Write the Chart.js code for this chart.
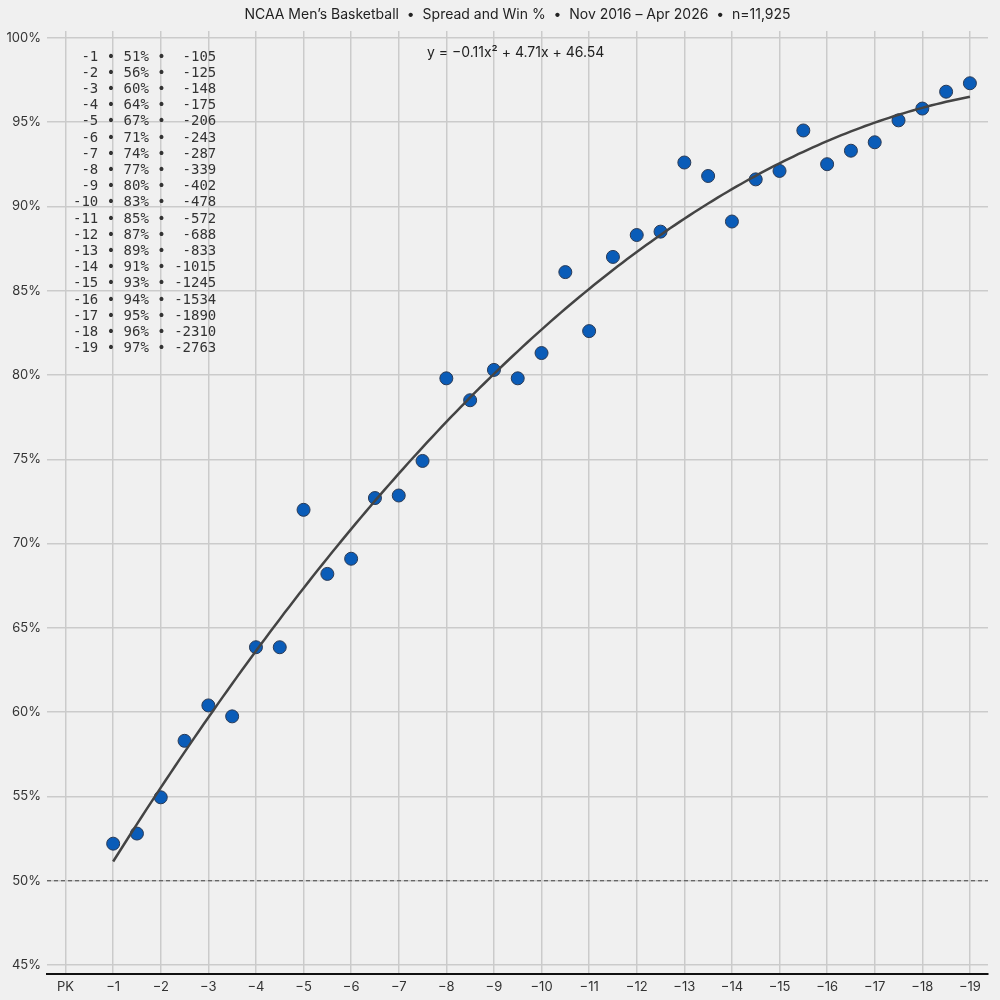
<!DOCTYPE html>
<html>
<head>
<meta charset="utf-8">
<script src="https://cdn.jsdelivr.net/npm/chart.js@4.4.1/dist/chart.umd.min.js"></script>
<style>
  html, body { margin: 0; padding: 0; background: #f0f0f0; }
  #wrap { width: 1000px; height: 1000px; }
</style>
</head>
<body>
<div id="wrap"><canvas id="chart" width="1000" height="1000"></canvas></div>
<script>
// spread (points favoured, as positive number) and observed win %
const spreads = [1, 1.5, 2, 2.5, 3, 3.5, 4, 4.5, 5, 5.5, 6, 6.5, 7, 7.5, 8, 8.5, 9, 9.5, 10,
                 10.5, 11, 11.5, 12, 12.5, 13, 13.5, 14, 14.5, 15, 15.5, 16, 16.5, 17, 17.5, 18, 18.5, 19];
const winPct = [52.2, 52.8, 54.95, 58.3, 60.4, 59.75, 63.85, 63.85, 72.0, 68.2, 69.1, 72.7, 72.85, 74.9,
                79.8, 78.5, 80.3, 79.8, 81.3, 86.1, 82.6, 87.0, 88.3, 88.5, 92.6, 91.8, 89.1, 91.6,
                92.1, 94.5, 92.5, 93.3, 93.8, 95.1, 95.8, 96.8, 97.3];

// fitted curve (printed rounded on the chart): y = a x^2 + b x + c
const fitCoef = [-0.1095, 4.71, 46.54];

// lookup table in upper-left corner
const tableSpread = ['-1','-2','-3','-4','-5','-6','-7','-8','-9','-10','-11','-12','-13','-14','-15','-16','-17','-18','-19'];
const tableWin = [51, 56, 60, 64, 67, 71, 74, 77, 80, 83, 85, 87, 89, 91, 93, 94, 95, 96, 97];
const tableOdds = ['-105','-125','-148','-175','-206','-243','-287','-339','-402','-478','-572','-688','-833','-1015','-1245','-1534','-1890','-2310','-2763'];

const xTicks = [0, 1, 2, 3, 4, 5, 6, 7, 8, 9, 10, 11, 12, 13, 14, 15, 16, 17, 18, 19];
const yTicks = [45, 50, 55, 60, 65, 70, 75, 80, 85, 90, 95, 100];

const titleText = 'NCAA Men\u2019s Basketball  \u2022  Spread and Win %  \u2022  Nov 2016 \u2013 Apr 2026  \u2022  n=11,925';
const eqText = 'y = \u22120.11x\u00b2 + 4.71x + 46.54';

const X_MIN = -0.39, X_MAX = 19.38;
const Y_MIN = 44.47, Y_MAX = 100.4;

const fitPts = [];
for (let x = 1; x <= 19.0001; x += 0.1) {
    fitPts.push({ x: x, y: fitCoef[0] * x * x + fitCoef[1] * x + fitCoef[2] });
}

// 标题 / 公式 / 表格
const overlay = {
    id: 'overlay',
    afterDraw(chart) {
        const c = chart.ctx, a = chart.chartArea;
        c.save();
        c.fillStyle = '#222';
        c.font = '14px Inter, sans-serif';
        c.textAlign = 'center';
        c.textBaseline = 'middle';
        c.fillText(titleText, (a.left + a.right) / 2, 15);

        c.textAlign = 'left';
        c.fillText(eqText, 427, 53);

        c.font = '14px "DejaVu Sans Mono", monospace';
        c.fillStyle = '#333';
        tableSpread.forEach((s, i) => {
            const line = s.padStart(3) + ' \u2022 ' + (tableWin[i] + '%') + ' \u2022 ' + tableOdds[i].padStart(5);
            c.fillText(line, 73, 57 + i * 16.2);
        });
        c.restore();
    }
};

new Chart(document.getElementById('chart').getContext('2d'), {
    type: 'scatter',
    data: {
        datasets: [
            {
                type: 'line',
                data: fitPts,
                borderColor: '#444',
                borderWidth: 2.5,
                pointRadius: 0,
                fill: false,
                order: 0
            },
            {
                data: spreads.map((s, i) => ({ x: s, y: winPct[i] })),
                backgroundColor: '#0a5cb8',
                borderColor: '#2a3a55',
                borderWidth: 1,
                pointRadius: 6.5,
                order: 1
            },
            {
                type: 'line',
                data: [{ x: X_MIN, y: 50 }, { x: X_MAX, y: 50 }],
                borderColor: '#444',
                borderWidth: 1,
                borderDash: [4, 3],
                pointRadius: 0,
                fill: false,
                order: 2
            }
        ]
    },
    options: {
        responsive: false,
        animation: false,
        layout: { padding: { top: 31, right: 12, left: 0, bottom: 0 } },
        plugins: {
            legend: { display: false },
            tooltip: { enabled: false }
        },
        scales: {
            x: {
                type: 'linear',
                min: X_MIN,
                max: X_MAX,
                afterBuildTicks: s => { s.ticks = xTicks.map(v => ({ value: v })); },
                afterFit: s => { s.height = 26; },
                grid: { color: '#cbcbcb', lineWidth: 1.5, drawTicks: false },
                border: { color: '#111', width: 2 },
                ticks: {
                    color: '#333',
                    padding: 5,
                    font: { family: 'Inter, sans-serif', size: 13 },
                    callback: v => v === 0 ? 'PK' : '\u2212' + v
                }
            },
            y: {
                min: Y_MIN,
                max: Y_MAX,
                afterBuildTicks: s => { s.ticks = yTicks.map(v => ({ value: v })); },
                afterFit: s => { s.width = 47; },
                grid: { color: '#cbcbcb', lineWidth: 1.5, drawTicks: false },
                border: { display: false },
                ticks: {
                    color: '#333',
                    padding: 6,
                    font: { family: 'Inter, sans-serif', size: 13 },
                    callback: v => v + '%'
                }
            }
        }
    },
    plugins: [overlay]
});
</script>
</body>
</html>
